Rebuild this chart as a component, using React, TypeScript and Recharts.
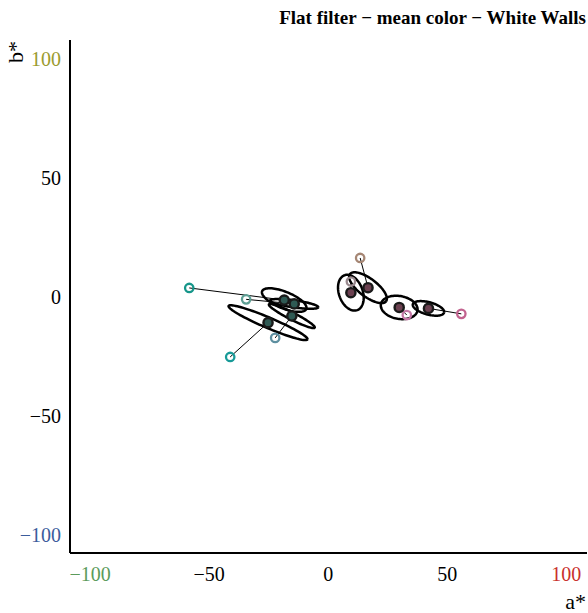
import { ScatterChart, Scatter, XAxis, YAxis } from "recharts";

// target (reference) colours and measured means, in a*/b*
const targetA = [-58.4, -34.5, -22.3, -41.2, 13.4, 9.5, 33.0, 55.9];
const targetB = [3.8, -1.0, -17.2, -25.2, 16.4, 6.5, -7.6, -7.1];
const meanA = [-18.5, -14.3, -15.3, -25.3, 16.7, 9.5, 29.8, 42.1];
const meanB = [-1.3, -2.9, -8.0, -10.8, 3.9, 1.8, -4.4, -4.8];
const targetColors = ["#16968a", "#5e9f94", "#5d8fa0", "#189a98", "#a58674", "#9a8a8f", "#c378a6", "#c2638f"];
const meanColors = ["#2f5a54", "#2f5a54", "#2f5a54", "#2f5a54", "#6b4050", "#6b4050", "#6b4050", "#6b4050"];

// spread ellipses around each mean: semi axes and tilt (deg)
const ellipseMajor = [10, 10.2, 10.8, 18, 9.5, 7.8, 7.8, 6.8];
const ellipseMinor = [3.5, 1.5, 1.5, 2.2, 3.8, 5, 4.8, 2.6];
const ellipseAngle = [-22, -8, -27, -23, -37, 110, -10, -15];

const xTicks = [-100, -50, 0, 50, 100];
const yTicks = [-100, -50, 0, 50, 100];
const xTickColors: Record<number, string> = { [-100]: "#5b9b5b", 100: "#c9302c" };
const yTickColors: Record<number, string> = { [-100]: "#3b5d9c", 100: "#9b9b2e" };

const FONT = "'Liberation Serif', 'Times New Roman', serif";

const fmt = (v: number) => (v < 0 ? "\u2212" + Math.abs(v) : String(v));

const ellipseOutline = (i: number) => {
  const pts = [];
  const th = (ellipseAngle[i] * Math.PI) / 180;
  for (let k = 0; k <= 90; k++) {
    const t = (k / 90) * Math.PI * 2;
    const u = ellipseMajor[i] * Math.cos(t);
    const v = ellipseMinor[i] * Math.sin(t);
    pts.push({
      a: meanA[i] + u * Math.cos(th) - v * Math.sin(th),
      b: meanB[i] + u * Math.sin(th) + v * Math.cos(th),
    });
  }
  return pts;
};

const XTick = ({ x, y, payload }: any) => (
  <text x={x} y={y + 26} textAnchor="middle" fontSize={20} fontFamily={FONT}
    fill={xTickColors[payload.value] ?? "#000"}>
    {fmt(payload.value)}
  </text>
);

const YTick = ({ x, y, payload }: any) => (
  <text x={x - 7} y={y + 7} textAnchor="end" fontSize={20} fontFamily={FONT}
    fill={yTickColors[payload.value] ?? "#000"}>
    {fmt(payload.value)}
  </text>
);

const none = () => <g />;

export default function App() {
  return (
    <div style={{ position: "relative", width: 588, height: 613 }}>
      <style>{`body{margin:0}`}</style>
      <ScatterChart width={588} height={613} margin={{ top: 40, right: 1, bottom: 0, left: 0 }}>
        <XAxis type="number" dataKey="a" domain={[-108.5, 108.7]} ticks={xTicks}
          allowDataOverflow tick={<XTick />} tickLine={false} tickSize={0} height={60}
          axisLine={{ stroke: "#000", strokeWidth: 2 }} />
        <YAxis type="number" dataKey="b" domain={[-107.6, 108]} ticks={yTicks}
          allowDataOverflow tick={<YTick />} tickLine={false} tickSize={0} width={70}
          axisLine={{ stroke: "#000", strokeWidth: 2 }} />
        {meanA.map((_, i) => (
          <Scatter key={"l" + i} data={[{ a: targetA[i], b: targetB[i] }, { a: meanA[i], b: meanB[i] }]}
            line={{ stroke: "#000", strokeWidth: 1 }} lineType="joint" shape={none} isAnimationActive={false} />
        ))}
        {meanA.map((_, i) => (
          <Scatter key={"e" + i} data={ellipseOutline(i)}
            line={{ stroke: "#000", strokeWidth: 2.5 }} lineType="joint" shape={none} isAnimationActive={false} />
        ))}
        {meanA.map((_, i) => (
          <Scatter key={"t" + i} data={[{ a: targetA[i], b: targetB[i] }]} isAnimationActive={false}
            shape={(p: any) => <circle cx={p.cx} cy={p.cy} r={4.2} fill="none" stroke={targetColors[i]} strokeWidth={2.3} />} />
        ))}
        {meanA.map((_, i) => (
          <Scatter key={"m" + i} data={[{ a: meanA[i], b: meanB[i] }]} isAnimationActive={false}
            shape={(p: any) => <circle cx={p.cx} cy={p.cy} r={4.6} fill={meanColors[i]} stroke="#1a1a1a" strokeWidth={2.4} />} />
        ))}
      </ScatterChart>
      <svg width={588} height={613} style={{ position: "absolute", left: 0, top: 0, pointerEvents: "none" }}>
        <text x={586} y={24} textAnchor="end" fontSize={19} fontWeight="bold" fontFamily={FONT}>
          Flat filter {"\u2212"} mean color {"\u2212"} White Walls
        </text>
        <text transform="translate(23,52) rotate(-90)" textAnchor="middle" fontSize={22} fontFamily={FONT}>b*</text>
        <text x={586} y={609} textAnchor="end" fontSize={22} fontFamily={FONT}>a*</text>
      </svg>
    </div>
  );
}
